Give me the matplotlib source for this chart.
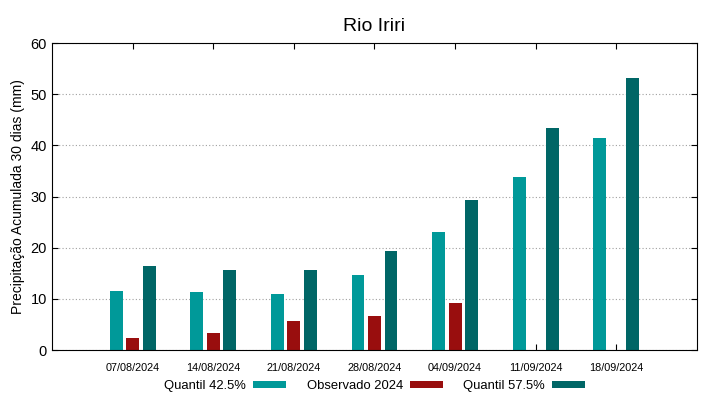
import matplotlib
matplotlib.use("Agg")
import matplotlib.pyplot as plt
import numpy as np

# ===================================================
# Data
# ===================================================

dates = ["07/08/2024", "14/08/2024", "21/08/2024", "28/08/2024",
         "04/09/2024", "11/09/2024", "18/09/2024"]
q425 = [11.5, 11.4, 10.9, 14.6, 23.0, 33.8, 41.4]
obs2024 = [2.3, 3.4, 5.6, 6.6, 9.1, np.nan, np.nan]
q575 = [16.5, 15.6, 15.6, 19.4, 29.4, 43.3, 53.2]

plt.rcParams["font.family"] = ["Liberation Sans", "DejaVu Sans"]

fig = plt.figure(figsize=(7.19, 3.99), dpi=100)
ax = fig.add_axes([0.0723, 0.1228, 0.8971, 0.7694])

x = np.arange(len(dates))
w = 0.16
off = 0.205

ax.bar(x - off, q425, width=w, color="#009999", label="Quantil 42.5%")
ax.bar(x, obs2024, width=w, color="#990e0e", label="Observado 2024")
ax.bar(x + off, q575, width=w, color="#006666", label="Quantil 57.5%")

ax.set_xlim(-1, 7)
ax.set_ylim(0, 60)
ax.set_yticks(range(0, 61, 10))
ax.set_xticks(x)
ax.set_xticklabels(dates, fontsize=7.8)
ax.tick_params(axis="y", labelsize=10.5)
ax.tick_params(direction="in", top=True, right=True, length=4)
ax.tick_params(axis="x", pad=9)
ax.yaxis.grid(True, linestyle=(0, (1, 2)), color="#a0a0a0", linewidth=0.8)
ax.set_axisbelow(True)

ax.set_ylabel("Precipitação Acumulada 30 dias (mm)", fontsize=10)
ax.set_title("Rio Iriri", fontsize=14, pad=9)

leg = ax.legend(loc="upper center", bbox_to_anchor=(0.5, -0.06), ncol=3,
                frameon=False, markerfirst=False, fontsize=9.4,
                handlelength=2.5, handleheight=0.45, columnspacing=1.6,
                handletextpad=0.55)

fig.savefig("out.png", dpi=100)
